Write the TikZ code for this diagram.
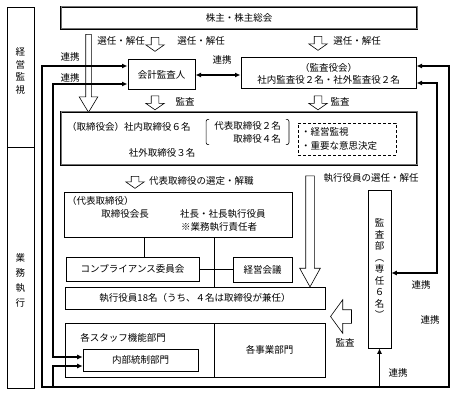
\documentclass[tikz,border=0pt]{standalone}
\usepackage{fontspec}
\setmainfont{Noto Sans CJK JP}
\usepackage{tikz}
\usetikzlibrary{arrows.meta,shapes.arrows}

\begin{document}
\begin{tikzpicture}[x=1pt, y=-1pt,
  font=\fontsize{9.5}{12}\selectfont,
  txt/.style={inner sep=0pt},
  box/.style={draw, line width=0.6pt, inner sep=0pt, align=center},
  bold/.style={box, line width=1pt},
  dbox/.style={draw, line width=0.7pt, double=black!55, double distance=1pt, inner sep=0pt},
  note/.style={draw, densely dashed, line width=0.6pt, inner sep=0pt, align=left},
  ln/.style={line width=0.6pt},
  lk/.style={line width=1.3pt, -{Latex[length=5.5pt, width=5pt]}},
  lk2/.style={line width=1.3pt, {Latex[length=5.5pt, width=5pt]}-{Latex[length=5.5pt, width=5pt]}},
  hol/.style={draw, line width=0.6pt, fill=white, single arrow, single arrow head indent=0pt},
  dn/.style={hol, shape border rotate=270},
  sm/.style={dn, minimum height=14pt, inner sep=3.5pt, single arrow head extend=5.5pt, single arrow tip angle=110}]
\useasboundingbox (0,0) rectangle (455,395);
% left column
\node[box, minimum width=27pt, minimum height=140pt] (kanshi) at (20.5,77) {};
\node[txt, align=center, font=\fontsize{9.5}{12.5}\selectfont] (kanshit) at (20.5,71) {経\\営\\監\\視};
\node[box, minimum width=27pt, minimum height=241pt] (shikko) at (20.5,267.5) {};
\node[txt, align=center, font=\fontsize{9.5}{15}\selectfont] (shikkot) at (20.5,280) {業\\務\\執\\行};
% top
\node[dbox, minimum width=356pt, minimum height=22pt] (kabu) at (239,18) {株主・株主総会};
\node[bold, minimum width=67pt, minimum height=30pt] (kaikei) at (161.5,75) {会計監査人};
\node[bold, minimum width=175pt, minimum height=31pt] (kansayaku) at (328.5,73.5) {（監査役会）\\社内監査役２名・社外監査役２名};
% board
\node[dbox, minimum width=356pt, minimum height=53pt] (tori) at (239,138.5) {};
\node[txt, anchor=west] (toriin) at (67,127) {（取締役会）社内取締役６名};
\node[txt] (torigai) at (162,153) {社外取締役３名};
\node[inner xsep=8pt, inner ysep=1.5pt, align=right, font=\fontsize{9.5}{13}\selectfont] (brk) at (247.5,132) {代表取締役２名\\取締役４名};
\draw[ln, rounded corners=2pt] ([xshift=3pt]brk.north west) -- (brk.north west) -- (brk.south west) -- ([xshift=3pt]brk.south west);
\draw[ln, rounded corners=2pt] ([xshift=-3pt]brk.north east) -- (brk.north east) -- (brk.south east) -- ([xshift=-3pt]brk.south east);
\node[note, minimum width=98pt, minimum height=32pt, text width=92pt, font=\fontsize{9.5}{14}\selectfont] (role) at (347,139) {・経営監視\\・重要な意思決定};
% execution
\node[box, minimum width=228pt, minimum height=45pt] (daihyo) at (178,214.5) {};
\node[txt, anchor=west] (daihyot) at (67,201) {（代表取締役）};
\node[txt] (kaicho) at (125,214) {取締役会長};
\node[txt, anchor=west] (shacho) at (180,214) {社長・社長執行役員};
\node[txt, anchor=west] (sekinin) at (181,227) {※業務執行責任者};
\node[box, minimum width=133pt, minimum height=24pt] (comp) at (132.5,269) {コンプライアンス委員会};
\node[box, minimum width=59pt, minimum height=25pt] (keiei) at (262.5,269.5) {経営会議};
\node[box, minimum width=260pt, minimum height=22pt] (yakuin) at (195,298) {執行役員18名（うち、４名は取締役が兼任）};
\node[box, minimum width=149pt, minimum height=54pt] (staff) at (139.5,350) {};
\node[txt] (stafft) at (123,338) {各スタッフ機能部門};
\node[box, minimum width=111pt, minimum height=54pt] (jigyo) at (269.5,350) {各事業部門};
\node[box, minimum width=115pt, minimum height=22pt] (naibu) at (140.5,360) {内部統制部門};
\node[box, minimum width=23pt, minimum height=158pt, font=\fontsize{9.5}{11.5}\selectfont] (kansabu) at (379.5,269) {監\\査\\部\\︵\\専\\任\\６\\名\\︶};
% thin lines
\coordinate (v1) at (144,0);
\coordinate (v2) at (214,0);
\draw[ln] (daihyo.south -| v1) -- (comp.north -| v1);
\draw[ln] (daihyo.south -| v2) -- (yakuin.north -| v2);
\draw[ln] (comp.east) -- (comp.east -| v2);
\draw[ln] (keiei.west) -- (keiei.west -| v2);
% hollow arrows
\node[dn, minimum height=78pt, inner sep=2.5pt, single arrow head extend=6.5pt, single arrow tip angle=62] (h1) at (88.5,71) {};
\node[sm] (h2) at (155,43) {};
\node[sm] (h3) at (318,42) {};
\node[sm] (h4) at (155,101.5) {};
\node[sm] (h5) at (318,101.5) {};
\node[sm, minimum height=12pt] (h6) at (135,181) {};
\node[dn, minimum height=111pt, inner sep=4pt, single arrow head extend=6pt, single arrow tip angle=58] (h7) at (310,227.5) {};
\node[hol, shape border rotate=180, minimum height=21pt, inner sep=6.5pt, single arrow head extend=10pt, single arrow tip angle=108] (h8) at (343.5,316.5) {};
% labels
\node[txt] (l1) at (121,41) {選任・解任};
\node[txt] (l2) at (201,41) {選任・解任};
\node[txt] (l3) at (357,41) {選任・解任};
\node[txt] (l4) at (185,102) {監査};
\node[txt] (l5) at (340,102) {監査};
\node[txt, anchor=west] (l6) at (149,181) {代表取締役の選定・解職};
\node[txt] (l7) at (371,178) {執行役員の選任・解任};
\node[txt] (l8) at (345,343) {監査};
\node[txt] (r1) at (70,57) {連携};
\node[txt] (r2) at (70,78) {連携};
\node[txt] (r3) at (222,60) {連携};
\node[txt] (r4) at (421,285) {連携};
\node[txt] (r5) at (430,320) {連携};
\node[txt] (r6) at (398,373) {連携};
% links
\coordinate (p1) at (42,66);
\coordinate (p2) at (42,387);
\coordinate (p3) at (449,387);
\coordinate (p4) at (449,66);
\coordinate (q1) at (53,84);
\coordinate (q2) at (53,357);
\coordinate (q3) at (437,83);
\coordinate (q4) at (437,273);
\coordinate (q5) at (53,366);
\draw[lk2] (kaikei.west |- p1) -- (p1) -- (p2) -- (p3) -- (p4) -- (kansayaku.east |- p4);
\draw[lk2] (kaikei.west |- q1) -- (q1) -- (q2) -- (naibu.west |- q2);
\draw[lk2] (kansayaku.east |- q3) -- (q3) -- (q4) -- (kansabu.east |- q4);
\draw[lk] (q5 |- p2) -- (q5) -- (naibu.west |- q5);
\draw[lk] (kansabu.south |- p2) -- (kansabu.south);
\draw[lk2] (kaikei.east) -- (kansayaku.west |- kaikei.east);
\end{tikzpicture}
\end{document}
